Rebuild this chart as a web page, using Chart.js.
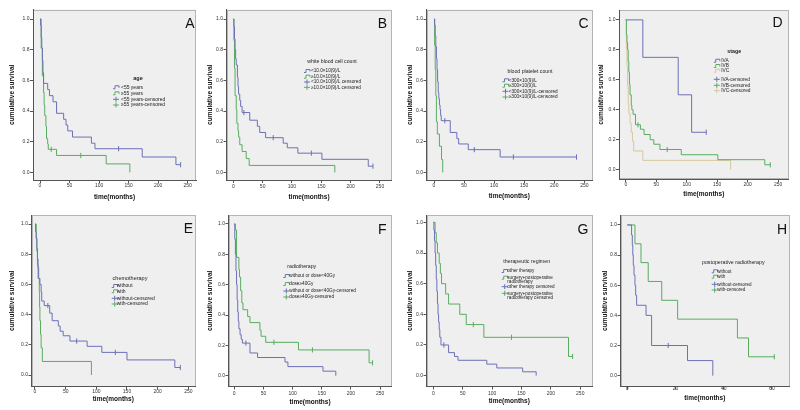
<!DOCTYPE html>
<html><head><meta charset="utf-8">
<script src="https://cdn.jsdelivr.net/npm/chart.js@4.4.1/dist/chart.umd.min.js"></script>
<style>
html,body{margin:0;padding:0;background:#fff;width:800px;height:410px;overflow:hidden;position:relative;}
canvas{position:absolute;}
</style></head><body>
<script>
// ---------- tick labels ----------
const yTicks = [0, 0.2, 0.4, 0.6, 0.8, 1.0];
const xTicksMonths = [0, 50, 100, 150, 200, 250];
const xTicksH = [0, 20, 40, 60];
const xTitle = 'time(months)';
const yTitle = 'cumulative survival';

// ---------- A: age ----------
const A_t_lt55 = [0,1,2,3,4,5,6,13,16,22,28,40,44,47,55,87,93,173,230,238];
const A_s_lt55 = [1,0.96,0.88,0.81,0.73,0.65,0.58,0.54,0.50,0.46,0.385,0.346,0.308,0.27,0.23,0.19,0.154,0.10,0.05,0.05];
const A_c_lt55 = [133,238];
const A_t_ge55 = [0,2,4,6,7,8,10,11,13,14,28,112,152];
const A_s_ge55 = [1,0.81,0.63,0.52,0.44,0.37,0.30,0.22,0.185,0.15,0.11,0.055,0];
const A_c_ge55 = [19,69];
const A_legendTitle = 'age';
const A_legendLabels = ['<55 years','≥55 years','<55 years-censored','≥55 years-censored'];

// ---------- B: white blood cell count ----------
const B_t_lt10 = [0,1,2,3,4,5,7,8,9,11,12.5,15,28,41,45,55,85,92,110,151,230,238];
const B_s_lt10 = [1,0.95,0.87,0.80,0.74,0.70,0.62,0.56,0.51,0.47,0.43,0.39,0.34,0.30,0.26,0.226,0.19,0.16,0.125,0.085,0.04,0.04];
const B_c_lt10 = [18,68,133,238];
const B_t_ge10 = [0,1,2,3,5,6,8,9,11,15,22,27,173];
const B_s_ge10 = [1,0.86,0.68,0.50,0.41,0.32,0.27,0.23,0.18,0.136,0.09,0.045,0];
const B_c_ge10 = [];
const B_legendTitle = 'white blood cell count';
const B_legendLabels = ['<10.0×10(9)/L','≥10.0×10(9)/L','<10.0×10(9)/L censored','≥10.0×10(9)/L censored'];

// ---------- C: blood platelet count ----------
const C_t_lt300 = [0,1,2,3,4,5,6,7,8,9,10,11,12,27,38,41,57,110,237];
const C_s_lt300 = [1,0.96,0.89,0.82,0.74,0.67,0.59,0.52,0.48,0.44,0.41,0.37,0.337,0.26,0.22,0.185,0.148,0.10,0.10];
const C_c_lt300 = [18,67,132,237];
const C_t_ge300 = [0,1,2,3,4,5.5,9,12.5,14.5];
const C_s_ge300 = [1,0.83,0.67,0.5,0.33,0.25,0.17,0.083,0];
const C_c_ge300 = [];
const C_legendTitle = 'blood platelet count';
const C_legendLabels = ['<300×10(9)/L','≥300×10(9)/L','<300×10(9)/L-censored','≥300×10(9)/L-censored'];

// ---------- D: stage ----------
const D_t_IVA = [0,28,86,108,132];
const D_s_IVA = [1,0.75,0.5,0.25,0.25];
const D_c_IVA = [132];
const D_t_IVB = [0,1,2,3,4,5,6,7,9,10,12,16,24,30,40,46,56,91,151,228,237];
const D_s_IVB = [1,0.9,0.85,0.80,0.72,0.65,0.57,0.50,0.43,0.40,0.37,0.30,0.27,0.235,0.20,0.17,0.135,0.10,0.067,0.033,0.033];
const D_c_IVB = [20,68,237];
const D_t_IVC = [0,1,2,3,4,5,7,9,11,13,28,172];
const D_s_IVC = [1,0.81,0.69,0.56,0.44,0.375,0.31,0.25,0.19,0.125,0.0625,0];
const D_c_IVC = [];
const D_legendTitle = 'stage';
const D_legendLabels = ['IVA','IVB','IVC','IVA-censored','IVB-censored','IVC-censored'];

// ---------- E: chemotherapy ----------
const E_t_without = [0,1,2,3,4,5,6,8,10,11,15,24,28,38,41,46,57,85,109,150,228,237];
const E_s_without = [1,0.95,0.90,0.84,0.77,0.71,0.64,0.60,0.55,0.49,0.46,0.41,0.36,0.325,0.29,0.26,0.225,0.19,0.15,0.10,0.05,0.05];
const E_c_without = [21,68,131,237];
const E_t_with = [0,2,3,4,5,7,7.5,8,9,10,12,92];
const E_s_with = [1,0.91,0.82,0.73,0.64,0.55,0.45,0.36,0.27,0.18,0.09,0];
const E_c_with = [];
const E_legendTitle = 'chemotherapy';
const E_legendLabels = ['without','with','without-censored','with-censored'];

// ---------- F: radiotherapy ----------
const F_t_low = [0,1,2,3,4,5,6,7,8,10,12,14,27,40,87,92,152,174];
const F_s_low = [1,0.9,0.8,0.69,0.6,0.5,0.42,0.36,0.31,0.27,0.24,0.215,0.15,0.12,0.09,0.06,0.03,0];
const F_c_low = [20];
const F_t_high = [0,2,4,8,9,11,13,15,23,27,44,46,54,110,231,237];
const F_s_high = [1,0.96,0.78,0.70,0.65,0.56,0.48,0.435,0.39,0.35,0.30,0.26,0.22,0.17,0.085,0.085];
const F_c_high = [68,134,237];
const F_legendTitle = 'radiotherapy';
const F_legendLabels = ['without or dose<40Gy','dose≥40Gy','without or dose<40Gy-censored','dose≥40Gy-censored'];

// ---------- G: therapeutic regimen ----------
const G_t_other = [0,1,2,3,4,5,6,7,8,9,10,11,13,26,36,42,91,108,152,175];
const G_s_other = [1,0.95,0.88,0.80,0.72,0.63,0.55,0.47,0.40,0.35,0.30,0.25,0.20,0.15,0.125,0.10,0.075,0.05,0.025,0];
const G_c_other = [18];
const G_t_surg = [0,3,5,7,10,12,14,21,26,45,56,86,230,237];
const G_s_surg = [1,0.933,0.867,0.8,0.733,0.667,0.6,0.533,0.467,0.4,0.333,0.25,0.125,0.125];
const G_c_surg = [68,133,237];
const G_legendTitle = 'therapeutic regimen';
const G_legendLabels = ['other therapy','surgery+postoperative\nradiotherapy','other therapy censored','surgery+postoperative\nradiotherapy censored'];

// ---------- H: postoperative radiotherapy ----------
const H_t_without = [0,1.8,2.1,2.3,2.5,2.8,3.2,3.5,3.9,7.8,10.1,25,35.5];
const H_s_without = [1,0.933,0.867,0.8,0.733,0.667,0.6,0.533,0.467,0.4,0.2,0.1,0];
const H_c_without = [17];
const H_t_with = [0,3.2,5.7,8.7,14.3,20.9,45.7,50.3,61];
const H_s_with = [1,0.875,0.75,0.625,0.5,0.375,0.25,0.125,0.125];
const H_c_with = [61];
const H_legendTitle = 'postoperative radiotherapy';
const H_legendLabels = ['without','with','without-censored','with-censored'];

// ---------- styles ----------
const BLUE = '#6c70b6', GREEN = '#58ad60', BEIGE = '#d9c79c';
const FONT = '"Liberation Sans", Arial, sans-serif';
Chart.defaults.font.family = FONT;

const panels = [
 {letter:'A', box:[33,9.5,196,180], xr:[-11.85,264], yr:[-0.05,1.062], ytx:12, xty:186, xtt:197, lx:194.5, ly:28.3, xt:xTicksMonths,
  series:[[A_t_lt55,A_s_lt55,A_c_lt55,BLUE],[A_t_ge55,A_s_ge55,A_c_ge55,GREEN]],
  lg:{title:A_legendTitle, labels:A_legendLabels, tx:138, ty:78, tb:true, ts:5.5, ix:113, x:121, ys:[87.3,93.3,99.3,105], s:5}},
 {letter:'B', box:[226.5,9.5,391.5,180], xr:[-11.6,269.6], yr:[-0.05,1.062], ytx:210, xty:186.7, xtt:197.3, lx:387, ly:27.7, xt:xTicksMonths,
  series:[[B_t_lt10,B_s_lt10,B_c_lt10,BLUE],[B_t_ge10,B_s_ge10,B_c_ge10,GREEN]],
  lg:{title:B_legendTitle, labels:B_legendLabels, tx:332, ty:62, tb:false, ts:5.2, ix:304, x:311, ys:[71,76.7,82,87.3], s:4.7}},
 {letter:'C', box:[426.5,9.5,592,180], xr:[-12.5,262.8], yr:[-0.05,1.062], ytx:410, xty:186, xtt:196, lx:588.5, ly:27.7, xt:xTicksMonths,
  series:[[C_t_lt300,C_s_lt300,C_c_lt300,BLUE],[C_t_ge300,C_s_ge300,C_c_ge300,GREEN]],
  lg:{title:C_legendTitle, labels:C_legendLabels, tx:530, ty:71.7, tb:false, ts:5.2, ix:502.5, x:508.7, ys:[80.3,85.7,91.3,97], s:4.7}},
 {letter:'D', box:[618.5,10,788,179], xr:[-11.1,266.9], yr:[-0.062,1.066], ytx:600.5, xty:184.5, xtt:194, lx:782, ly:26.7, xt:xTicksMonths,
  series:[[D_t_IVA,D_s_IVA,D_c_IVA,BLUE],[D_t_IVB,D_s_IVB,D_c_IVB,GREEN],[D_t_IVC,D_s_IVC,D_c_IVC,BEIGE]],
  lg:{title:D_legendTitle, labels:D_legendLabels, tx:733.7, ty:51.7, tb:true, ts:5.3, ix:713.3, x:720.7, ys:[60.7,66,70.7,79.3,85.3,90.7], s:4.8}},
 {letter:'E', box:[31.5,215,195,386.5], xr:[-5.7,260.9], yr:[-0.076,1.06], ytx:12, xty:392, xtt:399, lx:193, ly:233.3, xt:xTicksMonths,
  series:[[E_t_without,E_s_without,E_c_without,BLUE],[E_t_with,E_s_with,E_c_with,GREEN]],
  lg:{title:E_legendTitle, labels:E_legendLabels, tx:130, ty:278.3, tb:false, ts:5.5, ix:111.7, x:116.7, ys:[286,291.3,298.3,304], s:5}},
 {letter:'F', box:[228.5,215,391.5,386.5], xr:[-9.8,269.4], yr:[-0.071,1.059], ytx:210, xty:393.3, xtt:402.5, lx:386.5, ly:234, xt:xTicksMonths,
  series:[[F_t_low,F_s_low,F_c_low,BLUE],[F_t_high,F_s_high,F_c_high,GREEN]],
  lg:{title:F_legendTitle, labels:F_legendLabels, tx:301.7, ty:266.7, tb:false, ts:5.2, ix:283.3, x:289.3, ys:[276,284,291,297], s:4.7}},
 {letter:'G', box:[426.5,215,592,386.5], xr:[-11.6,270], yr:[-0.071,1.048], ytx:410, xty:393.3, xtt:401.7, lx:588.5, ly:234.3, xt:xTicksMonths,
  series:[[G_t_other,G_s_other,G_c_other,BLUE],[G_t_surg,G_s_surg,G_c_surg,GREEN]],
  lg:{title:G_legendTitle, labels:G_legendLabels, tx:526.7, ty:261.7, tb:false, ts:5.3, ix:501.7, x:507.3, ys:[271,277.7,286.7,293.3], s:4.6}},
 {letter:'H', box:[620.5,215,789,386.5], xr:[-2.8,67.1], yr:[-0.072,1.066], ytx:605, xty:389, xtt:398.3, lx:787, ly:234, xt:xTicksH,
  series:[[H_t_without,H_s_without,H_c_without,BLUE],[H_t_with,H_s_with,H_c_with,GREEN]],
  lg:{title:H_legendTitle, labels:H_legendLabels, tx:733.3, ty:262.3, tb:false, ts:5.3, ix:711.7, x:717.3, ys:[271.3,276.7,284.3,290], s:4.5}}
];

function stepData(t, s){ return t.map((v,i)=>({x:v, y:s[i]})); }
function censorData(c, t, s){
  return c.map(v => { let y = s[0]; for (let i=0;i<t.length;i++){ if (t[i] <= v) y = s[i]; } return {x:v, y:y}; });
}

const decor = {
  id:'decor',
  beforeDraw(chart, args, o){
    const a = chart.chartArea, ctx = chart.ctx;
    ctx.save();
    ctx.fillStyle = '#efefef';
    ctx.fillRect(a.left, a.top, a.right-a.left, a.bottom-a.top);
    ctx.strokeStyle = '#b4b4b4'; ctx.lineWidth = 1;
    ctx.strokeRect(Math.round(a.left)+0.5, Math.round(a.top)+0.5, Math.round(a.right-a.left)-1, Math.round(a.bottom-a.top)-1);
    ctx.restore();
  },
  afterDraw(chart, args, o){
    const ctx = chart.ctx, ox = o.ox, oy = o.oy, L = o.lg;
    ctx.save();
    ctx.fillStyle = '#111';
    ctx.font = '14px ' + FONT;
    ctx.textAlign = 'right'; ctx.textBaseline = 'alphabetic';
    ctx.fillText(o.letter, o.lx-ox, o.ly-oy);
    ctx.textBaseline = 'middle';
    ctx.textAlign = 'center';
    ctx.fillStyle = '#222';
    ctx.font = (L.tb ? 'bold ' : '') + L.ts + 'px ' + FONT;
    ctx.fillText(L.title, L.tx-ox, L.ty-oy);
    ctx.textAlign = 'left';
    ctx.font = L.s + 'px ' + FONT;
    const n = o.colors.length;
    L.labels.forEach((lab, i) => {
      const color = o.colors[i % n], censored = i >= n;
      const x = L.ix-ox, y = L.ys[i]-oy;
      ctx.strokeStyle = color; ctx.lineWidth = 1;
      ctx.beginPath();
      if (!censored){
        ctx.moveTo(x, y+1.5); ctx.lineTo(x+2, y+1.5); ctx.lineTo(x+2, y-1.5); ctx.lineTo(x+6, y-1.5); ctx.lineTo(x+6, y+0.5);
      } else {
        ctx.moveTo(x, y); ctx.lineTo(x+6, y); ctx.moveTo(x+3, y-2.5); ctx.lineTo(x+3, y+2.5);
      }
      ctx.stroke();
      ctx.fillStyle = '#222';
      lab.split('\n').forEach((ln, k) => ctx.fillText(ln, L.x-ox, y + k*4.2));
    });
    ctx.restore();
  }
};

panels.forEach(p => {
  const row = p.box[1] < 200 ? 0 : 1;
  const top = row * 205, H = 205;
  const left = p.ytx - 5;
  const W = Math.ceil(p.box[2] - left + 6);
  const cv = document.createElement('canvas');
  cv.width = W; cv.height = H;
  cv.style.left = left + 'px'; cv.style.top = top + 'px';
  cv.style.width = W + 'px'; cv.style.height = H + 'px';
  document.body.appendChild(cv);

  const yW = p.box[0] - left;
  const xH = top + H - p.box[3];
  const padRight = W - (p.box[2] - left);
  const padTop = p.box[1] - top;
  const tickLen = 3, lhTick = 6, lhTitle = 6.5*1.2;
  const xTickPad = p.xty - p.box[3] - tickLen - lhTick/2;
  const xTitlePad = Math.max(0, (top + H - p.xtt) - lhTitle/2);
  const yTitlePad = Math.max(0, (p.ytx - left) - lhTitle/2);

  const datasets = [];
  p.series.forEach(([t,s,c,col]) => {
    datasets.push({type:'line', data:stepData(t,s), borderColor:col, borderWidth:1, pointRadius:0, stepped:true, fill:false});
  });
  p.series.forEach(([t,s,c,col]) => {
    datasets.push({type:'scatter', data:censorData(c,t,s), borderColor:col, backgroundColor:col, borderWidth:1, pointStyle:'line', rotation:90, pointRadius:2.6, showLine:false});
  });

  new Chart(cv, {
    type:'line',
    data:{datasets},
    plugins:[decor],
    options:{
      responsive:false, maintainAspectRatio:false, animation:false, devicePixelRatio:1, events:[],
      layout:{padding:{left:0, top:padTop, right:padRight, bottom:0}},
      plugins:{legend:{display:false}, tooltip:{enabled:false},
        decor:{ox:left, oy:top, letter:p.letter, lx:p.lx, ly:p.ly, lg:p.lg, colors:p.series.map(s=>s[3])}},
      scales:{
        x:{type:'linear', min:p.xr[0], max:p.xr[1],
          afterFit:s=>{ s.height = xH; },
          afterBuildTicks:s=>{ s.ticks = p.xt.map(v=>({value:v})); },
          ticks:{font:{size:5}, color:'#333', padding:xTickPad, autoSkip:false, maxRotation:0, callback:v=>String(v)},
          grid:{drawOnChartArea:false, drawTicks:true, tickLength:tickLen, color:'#555', lineWidth:1},
          border:{display:true, color:'#555', width:1},
          title:{display:true, text:xTitle, color:'#111', font:{size:6.5, weight:'bold'}, padding:{top:0, bottom:xTitlePad}}},
        y:{type:'linear', min:p.yr[0], max:p.yr[1],
          afterFit:s=>{ s.width = yW; },
          afterBuildTicks:s=>{ s.ticks = yTicks.map(v=>({value:v})); },
          ticks:{font:{size:5}, color:'#333', padding:0.5, autoSkip:false, callback:v=>Number(v).toFixed(1)},
          grid:{drawOnChartArea:false, drawTicks:true, tickLength:tickLen, color:'#555', lineWidth:1},
          border:{display:true, color:'#555', width:1},
          title:{display:true, text:yTitle, color:'#111', font:{size:6.5, weight:'bold'}, padding:{top:yTitlePad, bottom:0}}}
      }
    }
  });
});
</script>
</body></html>
